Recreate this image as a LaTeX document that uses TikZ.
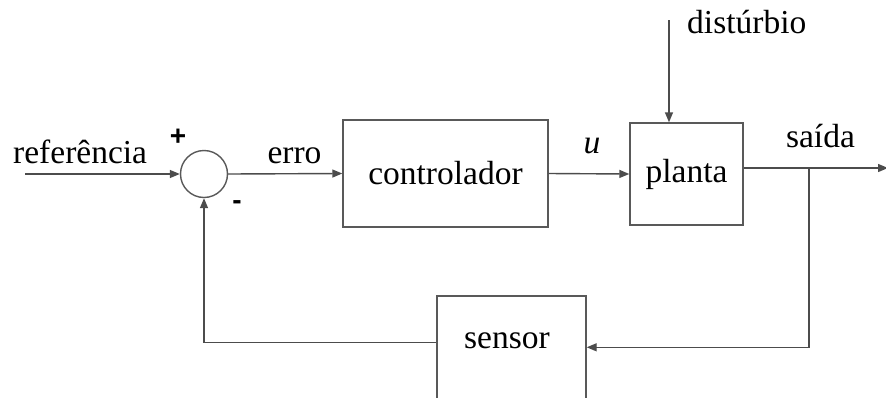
\documentclass[tikz,border=0pt]{standalone}
\usepackage{fontspec}
\setmainfont{Liberation Serif}
\newfontfamily\signfont{Liberation Sans}
\usetikzlibrary{arrows.meta,calc}
\begin{document}
\begin{tikzpicture}[x=1pt,y=-1pt,
  line/.style={draw=black!70,line width=1.4pt},
  arr/.style={line,-{Triangle[length=10pt,width=8pt]}},
  blk/.style={draw=black!65,line width=1.4pt,rectangle,inner sep=0pt},
  lbl/.style={font=\fontsize{33.5}{40}\selectfont,inner sep=0pt},
  sgn/.style={font=\signfont\bfseries\fontsize{28}{32}\selectfont,inner sep=0pt}]
\clip (0,0) rectangle (886,397);
\fill[white] (0,0) rectangle (886,397);
% blocks
\node[blk,circle,minimum size=47pt] (sum) at (204,174) {};
\node[blk,lbl,minimum width=205pt,minimum height=107pt] (ctrl) at (445.5,173.5) {controlador};
\node[blk,lbl,minimum width=113pt,minimum height=102pt] (plant) at (686.5,174) {planta};
\node[blk,minimum width=149pt,minimum height=130pt] (sensor) at (511.5,361) {};
\node[lbl,anchor=base] (sensortxt) at (507,348) {sensor};
% labels
\node[lbl,anchor=base west] (ref) at (13,163) {referência};
\node[lbl,anchor=base] (erro) at (294.5,163) {erro};
\node[lbl,anchor=base] (u) at (592,153) {\itshape u};
\node[lbl,anchor=base west] (dist) at (687,33) {distúrbio};
\node[lbl,anchor=base] (saida) at (820.5,147) {saída};
\node[sgn] (plus) at (178,137) {+};
\node[sgn] (minus) at (237,205) {-};
% coordinates
\coordinate (in) at (25,174);
\coordinate (dtop) at (669,20);
\coordinate (pout) at ($(plant.east)+(0,-6)$);
\coordinate (outend) at (888,168);
\coordinate (branch) at (809,168);
\coordinate (sin) at ($(sensor.north east)+(0,52)$);
\coordinate (sout) at ($(sensor.north west)+(0,47)$);
% connectors
\draw[arr] (in) -- (sum.west);
\draw[arr] (sum.east) -- (ctrl.west);
\draw[arr] (ctrl.east) -- (plant.west);
\draw[arr] (dtop) -- (dtop |- plant.north);
\draw[arr] (pout) -- (outend);
\draw[arr] (branch) |- (sin);
\draw[arr] (sout) -| (sum.south);
\end{tikzpicture}
\end{document}
